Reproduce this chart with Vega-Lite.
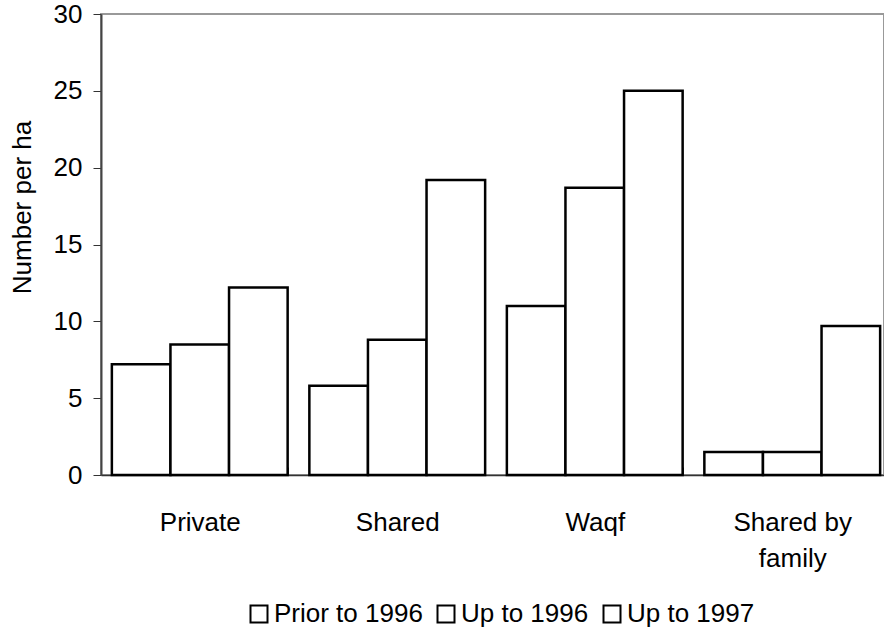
{
  "$schema": "https://vega.github.io/schema/vega-lite/v6.json",
  "width": 783,
  "height": 461,
  "autosize": {"type": "none"},
  "padding": {"left": 101, "top": 14, "right": 0, "bottom": 155},
  "background": "white",
  "config": {
    "font": "Liberation Sans",
    "view": {"stroke": "#999999", "strokeWidth": 2}
  },
  "data": {
    "values": [
      {"tenure": "Private", "period": "Prior to 1996", "value": 7.2},
      {"tenure": "Private", "period": "Up to 1996", "value": 8.5},
      {"tenure": "Private", "period": "Up to 1997", "value": 12.2},
      {"tenure": "Shared", "period": "Prior to 1996", "value": 5.8},
      {"tenure": "Shared", "period": "Up to 1996", "value": 8.8},
      {"tenure": "Shared", "period": "Up to 1997", "value": 19.2},
      {"tenure": "Waqf", "period": "Prior to 1996", "value": 11.0},
      {"tenure": "Waqf", "period": "Up to 1996", "value": 18.7},
      {"tenure": "Waqf", "period": "Up to 1997", "value": 25.0},
      {"tenure": "Shared by family", "period": "Prior to 1996", "value": 1.5},
      {"tenure": "Shared by family", "period": "Up to 1996", "value": 1.5},
      {"tenure": "Shared by family", "period": "Up to 1997", "value": 9.7}
    ]
  },
  "mark": {"type": "bar", "stroke": "black", "strokeWidth": 2.5, "fillOpacity": 1},
  "encoding": {
    "x": {
      "field": "tenure",
      "type": "nominal",
      "sort": ["Private", "Shared", "Waqf", "Shared by family"],
      "scale": {"range": [0, 790], "paddingInner": 0.11, "paddingOuter": 0.055},
      "axis": {
        "title": null,
        "labelAngle": 0,
        "labelFontSize": 26,
        "labelColor": "black",
        "labelPadding": 42,
        "labelLineHeight": 36,
        "labelBaseline": "top",
        "labelExpr": "datum.value == 'Shared by family' ? ['Shared by', 'family'] : datum.value",
        "tickBand": "extent",
        "tickSize": -8,
        "tickColor": "#333333",
        "domainColor": "#333333",
        "domainWidth": 1.5
      }
    },
    "xOffset": {
      "field": "period",
      "type": "nominal",
      "scale": {"paddingInner": 0, "paddingOuter": 0}
    },
    "y": {
      "field": "value",
      "type": "quantitative",
      "scale": {"domain": [0, 30]},
      "axis": {
        "title": "Number per ha",
        "titleFontSize": 26,
        "titleFontWeight": "normal",
        "titleColor": "black",
        "titlePadding": 18,
        "titleY": 193,
        "values": [0, 5, 10, 15, 20, 25, 30],
        "labelFontSize": 26,
        "labelColor": "black",
        "labelPadding": 11,
        "tickSize": 8,
        "tickColor": "#333333",
        "domainColor": "#444444",
        "domainWidth": 2,
        "grid": false
      }
    },
    "color": {
      "field": "period",
      "type": "nominal",
      "scale": {"range": ["white", "white", "white"]},
      "legend": {
        "title": null,
        "orient": "none",
        "legendX": 145,
        "legendY": 587,
        "direction": "horizontal",
        "symbolType": "square",
        "symbolSize": 289,
        "symbolStrokeColor": "black",
        "symbolStrokeWidth": 2,
        "symbolFillColor": "white",
        "labelFontSize": 26,
        "labelColor": "black",
        "labelOffset": 2,
        "columnPadding": 10
      }
    }
  }
}
